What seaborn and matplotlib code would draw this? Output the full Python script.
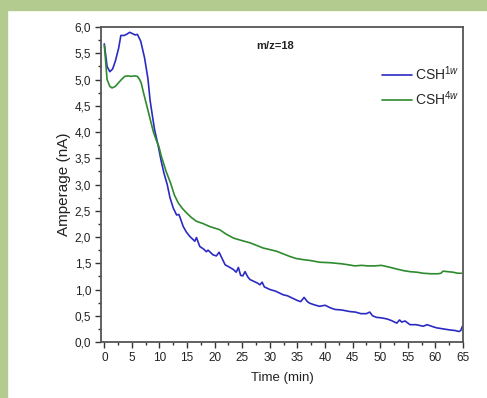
import pandas as pd
import matplotlib
matplotlib.use('Agg')
import matplotlib.pyplot as plt
import seaborn as sns
from matplotlib.patches import Rectangle
from matplotlib.ticker import MultipleLocator, FuncFormatter

# 读图得到的数据：时间(min) 与电流(nA)
time_1w = [0.0, 0.5, 1.0, 1.5, 2.0, 2.6, 3.0, 3.6, 4.0, 4.6, 5.2, 5.6, 6.0, 6.6,
           7.3, 7.9, 8.3, 8.7, 9.1, 9.8, 10.3, 10.8, 11.4, 11.9, 12.5, 13.1, 13.5,
           13.7, 14.3, 14.9, 15.5, 16.0, 16.4, 16.7, 17.3, 18.0, 18.5, 18.8, 19.7,
           20.3, 20.8, 21.3, 21.9, 22.6, 23.4, 23.9, 24.3, 24.7, 25.1, 25.5, 26.0,
           26.4, 27.2, 27.8, 28.2, 28.6, 29.0, 30.0, 31.0, 32.4, 33.2, 34.2, 35.0,
           35.6, 36.2, 36.8, 37.2, 38.0, 39.0, 40.0, 41.0, 41.8, 43.0, 44.5, 45.5,
           46.5, 47.5, 48.1, 48.6, 49.3, 50.2, 51.2, 52.0, 53.0, 53.5, 53.9, 54.5,
           55.4, 56.5, 57.8, 58.5, 59.3, 60.2, 61.4, 62.6, 63.5, 64.3, 64.6, 64.9]
amp_1w = [5.68, 5.25, 5.15, 5.20, 5.35, 5.60, 5.84, 5.84, 5.86, 5.90, 5.87, 5.85,
          5.86, 5.73, 5.41, 5.02, 4.60, 4.32, 4.05, 3.72, 3.45, 3.22, 3.00, 2.75,
          2.55, 2.42, 2.43, 2.38, 2.20, 2.09, 2.01, 1.96, 1.92, 1.99, 1.82, 1.77,
          1.72, 1.75, 1.66, 1.64, 1.71, 1.60, 1.47, 1.43, 1.38, 1.33, 1.42, 1.27,
          1.26, 1.34, 1.24, 1.19, 1.15, 1.12, 1.09, 1.14, 1.05, 1.00, 0.97, 0.90,
          0.88, 0.83, 0.79, 0.77, 0.85, 0.77, 0.74, 0.71, 0.68, 0.70, 0.65, 0.62,
          0.61, 0.58, 0.57, 0.54, 0.54, 0.57, 0.50, 0.47, 0.46, 0.44, 0.41, 0.36,
          0.42, 0.38, 0.40, 0.33, 0.33, 0.30, 0.33, 0.30, 0.27, 0.25, 0.23, 0.22,
          0.20, 0.22, 0.30]

time_4w = [0.0, 0.5, 1.0, 1.4, 2.0, 2.5, 3.1, 3.7, 4.3, 4.9, 5.5, 6.0, 6.4, 6.7,
           7.1, 7.7, 8.3, 8.9, 9.4, 9.9, 10.3, 11.2, 12.0, 12.7, 13.4, 14.1, 14.9,
           15.8, 16.7, 17.8, 19.1, 20.0, 20.9, 22.0, 23.4, 25.0, 26.4, 27.6, 28.8,
           30.0, 31.2, 32.4, 33.6, 34.8, 36.0, 37.5, 39.0, 41.0, 43.0, 44.3, 45.4,
           46.6, 47.8, 49.0, 50.2, 51.5, 53.0, 54.2, 55.4, 56.6, 57.8, 59.2, 60.5,
           61.0, 61.4, 62.2, 63.2, 64.0, 64.7]
amp_4w = [5.66, 5.00, 4.87, 4.84, 4.87, 4.93, 5.00, 5.06, 5.07, 5.06, 5.07, 5.06,
          5.00, 4.93, 4.75, 4.50, 4.25, 4.00, 3.85, 3.72, 3.55, 3.25, 3.03, 2.80,
          2.65, 2.55, 2.46, 2.37, 2.30, 2.26, 2.20, 2.17, 2.14, 2.06, 1.98, 1.93,
          1.89, 1.84, 1.79, 1.76, 1.73, 1.68, 1.63, 1.59, 1.57, 1.55, 1.52, 1.51,
          1.49, 1.47, 1.45, 1.46, 1.45, 1.45, 1.46, 1.43, 1.39, 1.36, 1.34, 1.33,
          1.31, 1.30, 1.30, 1.31, 1.35, 1.34, 1.33, 1.31, 1.31]

series_names = ['CSH$^{1w}$', 'CSH$^{4w}$']
series_colors = ['#2b2bc4', '#2e8a2e']

df = pd.concat([
    pd.DataFrame({'time': time_1w, 'amp': amp_1w, 'sample': series_names[0]}),
    pd.DataFrame({'time': time_4w, 'amp': amp_4w, 'sample': series_names[1]}),
])

sns.set_style('ticks')
plt.rcParams['font.family'] = ['Liberation Sans', 'DejaVu Sans']
plt.rcParams['mathtext.fontset'] = 'custom'
plt.rcParams['mathtext.rm'] = 'Liberation Sans'
plt.rcParams['mathtext.it'] = 'Liberation Sans:italic'

fig = plt.figure(figsize=(4.87, 3.98), dpi=100)
fig.patch.set_facecolor('white')
# 绿色边框
fig.patches.append(Rectangle((0, 0.975), 1, 0.025, transform=fig.transFigure,
                             color='#b4cb90', zorder=0))
fig.patches.append(Rectangle((0, 0), 0.0144, 1, transform=fig.transFigure,
                             color='#b4cb90', zorder=0))

ax = fig.add_axes([0.2074, 0.1407, 0.7433, 0.7913])
sns.lineplot(data=df, x='time', y='amp', hue='sample', palette=series_colors,
             estimator=None, sort=False, linewidth=1.2, ax=ax)

ax.set_xlim(-0.6, 65)
ax.set_ylim(0, 6.0)
ax.xaxis.set_major_locator(MultipleLocator(5))
ax.xaxis.set_minor_locator(MultipleLocator(2.5))
ax.yaxis.set_major_locator(MultipleLocator(0.5))
ax.yaxis.set_minor_locator(MultipleLocator(0.25))
ax.yaxis.set_major_formatter(FuncFormatter(lambda v, p: f'{v:.1f}'.replace('.', ',')))
ax.xaxis.set_major_formatter(FuncFormatter(lambda v, p: f'{v:.0f}'))
ax.tick_params(which='major', length=4, width=1, color='#333333', labelsize=8.5,
               labelcolor='#222222', pad=3)
ax.tick_params(which='minor', length=2.5, width=1, color='#333333')
for s in ax.spines.values():
    s.set_color('#555555')
    s.set_linewidth(1.3)

ax.set_xlabel('Time (min)', fontsize=9.5, color='#222222', labelpad=6)
ax.set_ylabel('Amperage (nA)', fontsize=11, color='#222222', labelpad=3)
ax.text(0.48, 0.94, 'm/z=18', transform=ax.transAxes, ha='center', va='center',
        fontsize=8, fontweight='bold', color='#222222')

ax.legend(loc='center left', bbox_to_anchor=(0.762, 0.813), frameon=False,
          fontsize=10, handlelength=2.1, handletextpad=0.27, labelspacing=0.45,
          borderaxespad=0)

fig.savefig('out.png', dpi=100, facecolor=fig.get_facecolor())
